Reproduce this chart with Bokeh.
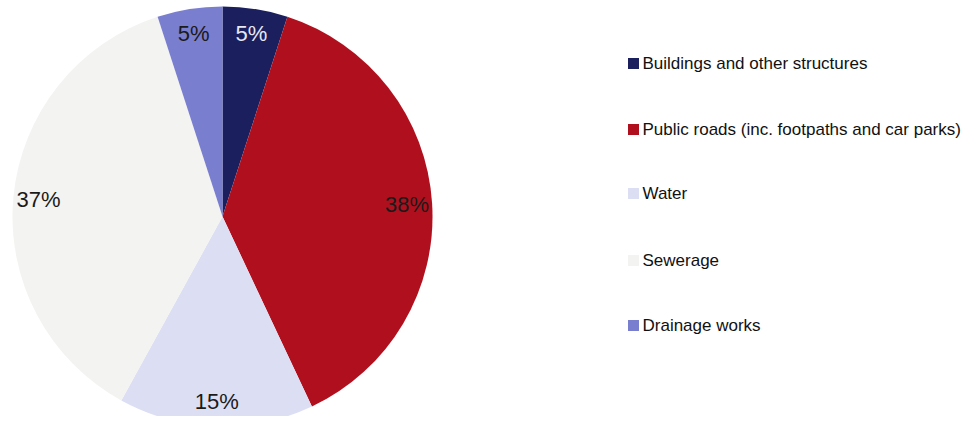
import math
from bokeh.plotting import figure
from bokeh.models import Range1d, ColumnDataSource
from bokeh.core.properties import value
from bokeh.embed import file_html
from bokeh.resources import INLINE

categories = ["Buildings and other structures",
              "Public roads (inc. footpaths and car parks)",
              "Water", "Sewerage", "Drainage works"]
shares = [5, 38, 15, 37, 5]
pct_labels = ["5%", "38%", "15%", "37%", "5%"]
colors = ["#1b1f5e", "#b0101e", "#dcdff3", "#f3f3f1", "#7a7ecf"]
label_colors = ["#e6e8f2", "#1a1a1a", "#1a1a1a", "#1a1a1a", "#1a1a1a"]

W, H = 968, 416
FONT = "Liberation Sans"

cx, cy, R = 222, H - 216, 210
total = sum(shares)
starts, ends, lx, ly = [], [], [], []
cum = 0
for s in shares:
    a0 = math.pi / 2 - 2 * math.pi * cum / total
    cum += s
    a1 = math.pi / 2 - 2 * math.pi * cum / total
    starts.append(a0)
    ends.append(a1)
    mid = (a0 + a1) / 2
    r = 0.88 * R
    lx.append(cx + r * math.cos(mid))
    ly.append(cy + r * math.sin(mid))

src = ColumnDataSource(dict(start=starts, end=ends, color=colors,
                            lx=lx, ly=ly, lab=pct_labels, lcol=label_colors))

p = figure(width=W, height=H, output_backend="svg", toolbar_location=None,
           x_range=Range1d(0, W), y_range=Range1d(0, H),
           min_border=0, outline_line_color=None)
p.axis.visible = False
p.grid.visible = False
p.background_fill_color = "white"
p.border_fill_color = "white"

p.wedge(x=cx, y=cy, radius=R, start_angle="start", end_angle="end",
        direction="clock", fill_color="color", line_color=None, source=src)

p.text(x="lx", y="ly", text="lab", text_color="lcol", source=src,
       text_font=value(FONT), text_font_size="22px",
       text_align="center", text_baseline="middle")

# legend
leg_y = [H - 63, H - 129, H - 193, H - 260, H - 325]
leg_src = ColumnDataSource(dict(y=leg_y, color=colors, name=categories))
p.rect(x=633, y="y", width=11, height=11, fill_color="color",
       line_color=None, source=leg_src)
p.text(x=642, y="y", text="name", source=leg_src, text_color="#111111",
       text_font=value(FONT), text_font_size="17px",
       text_align="left", text_baseline="middle")

open("out.html", "w").write(file_html(p, INLINE))
